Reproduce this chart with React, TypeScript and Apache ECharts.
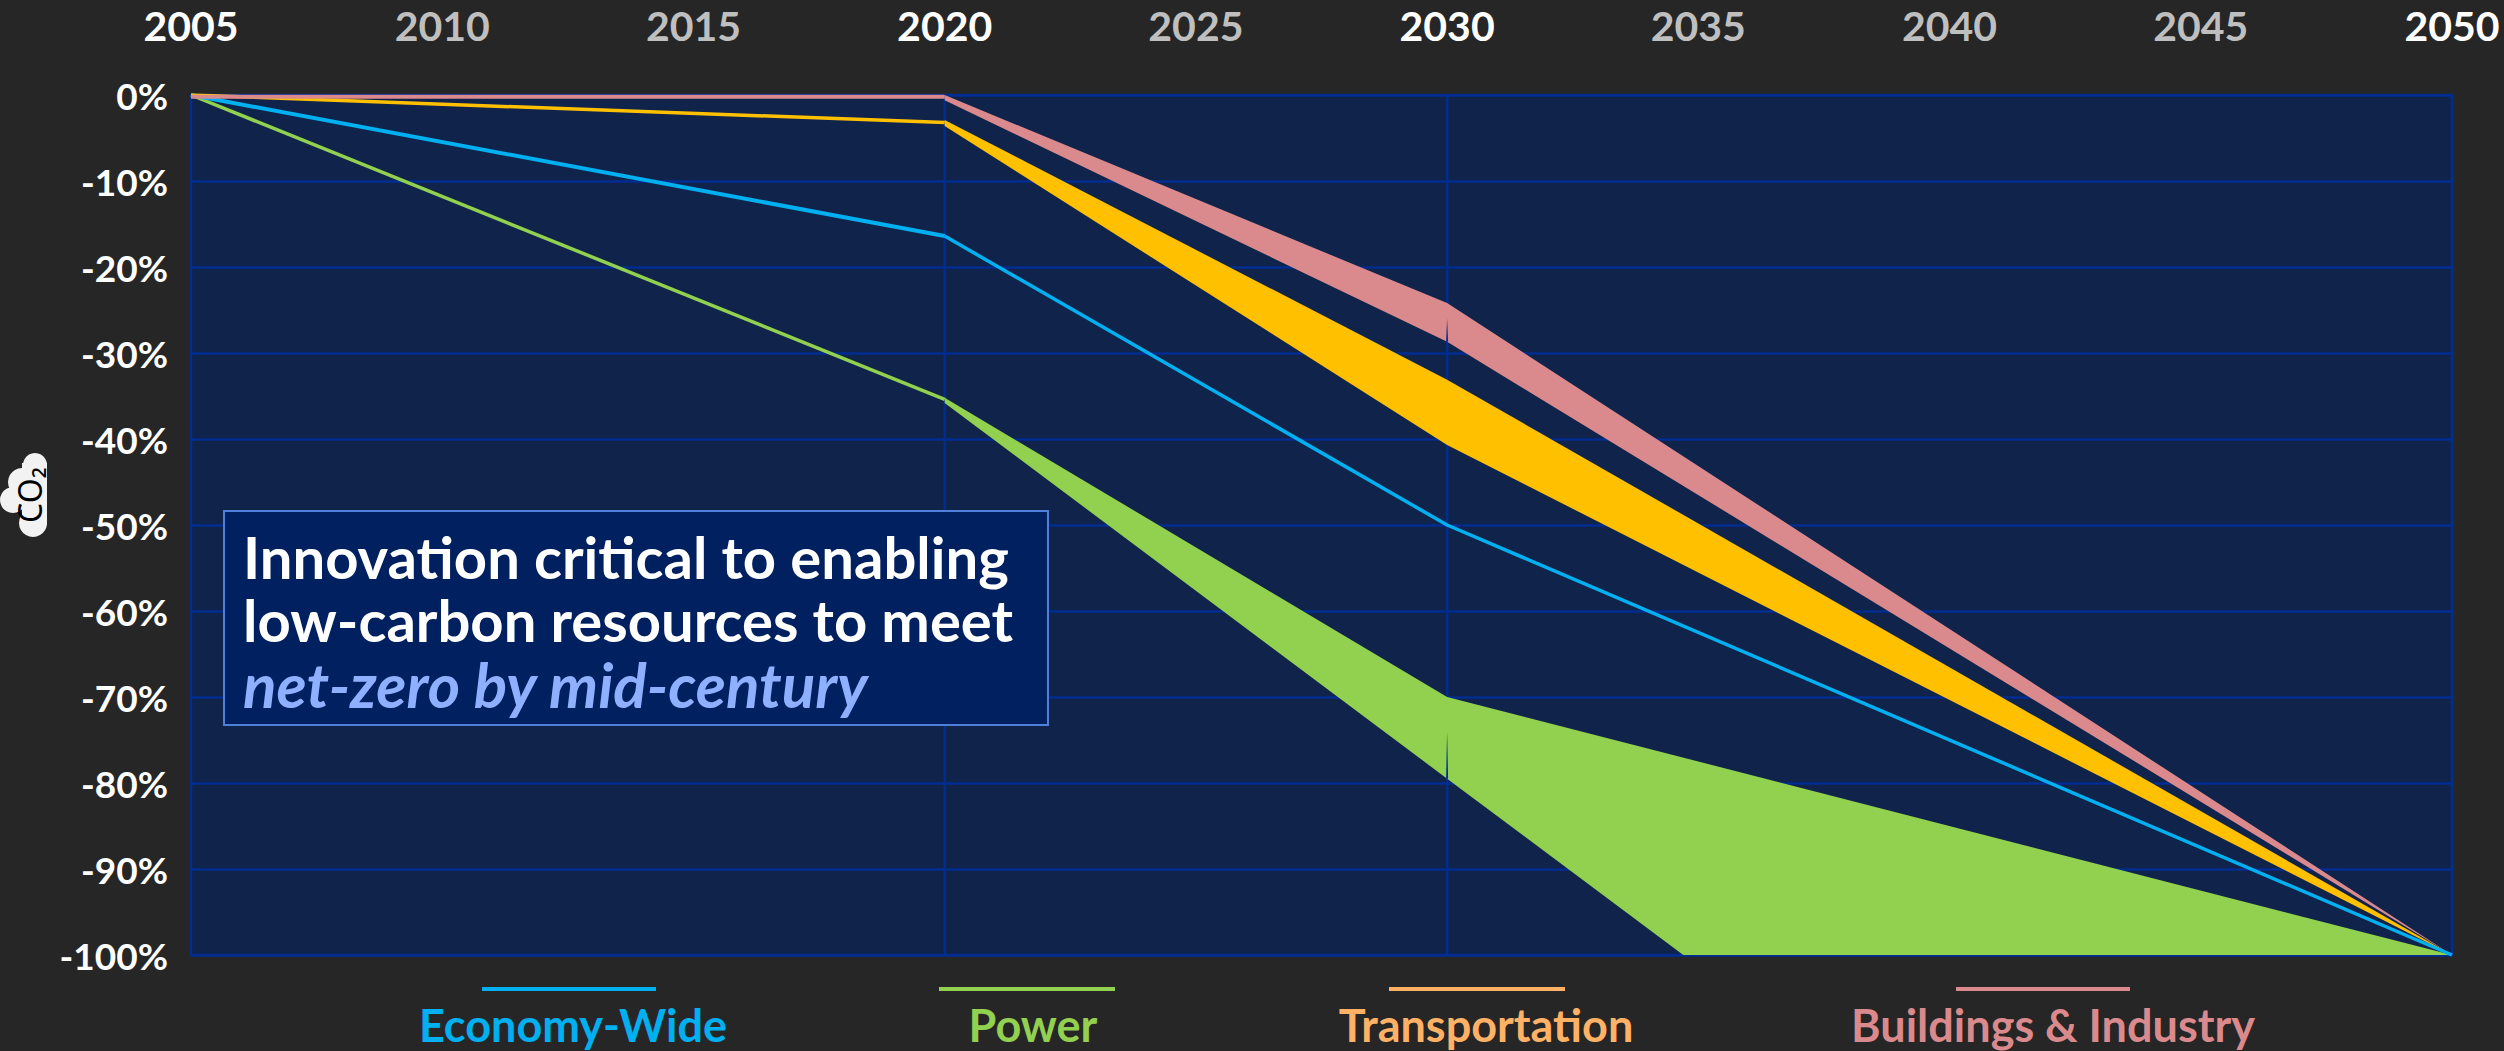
import React, { useEffect, useRef } from "react";
import * as echarts from "echarts";

const tickYears = [2005, 2010, 2015, 2020, 2025, 2030, 2035, 2040, 2045, 2050];
const strongYears = [2005, 2020, 2030, 2050];
const gridYears = [2020, 2030];

const economyHistory = [[2005, 0], [2020, -16.4]];
const economyPath = [[2020, -16.4], [2030, -50], [2050, -100]];
const powerHistory = [[2005, 0], [2020, -35.4]];
const transportHistory = [[2005, 0], [2020, -3.2]];
const buildingsHistory = [[2005, -0.2], [2020, -0.2]];

const powerUpper = [[2020, -35.2], [2030, -70], [2050, -100]];
const powerLower = [[2020, -35.8], [2030, -79.5], [2034.7, -100], [2050, -100]];
const transportUpper = [[2020, -2.9], [2030, -33.1], [2050, -100]];
const transportLower = [[2020, -3.6], [2030, -40.7], [2050, -100]];
const buildingsUpper = [[2020, 0], [2030, -24.2], [2050, -100]];
const buildingsLower = [[2020, -0.6], [2030, -28.7], [2050, -100]];

const seams = [[2030, -26, -28.7], [2030, -74, -79.5]];

const legendNames = ["Economy-Wide", "Power", "Transportation", "Buildings & Industry"];
const legendColors = ["#00B0F0", "#92D050", "#FFB266", "#DA8A8C"];
const calloutLines = ["Innovation critical to enabling", "low-carbon resources to meet", "net-zero by mid-century"];

const FONT = "Lato";
const GRID_COLOR = "#002D90";
const BLUE = "#00B0F0";
const GREEN = "#92D050";
const YELLOW = "#FFC000";
const PINK = "#DA8A8C";

function band(name: string, upper: number[][], lower: number[][], color: string) {
  return {
    name,
    type: "custom",
    z: 3,
    silent: true,
    data: [0],
    renderItem: (_: any, api: any) => ({
      type: "polygon",
      shape: { points: [...upper, ...[...lower].reverse()].map((p) => api.coord(p)) },
      style: { fill: color },
    }),
  };
}

function history(name: string, data: number[][], color: string, width: number, z: number) {
  return {
    name,
    type: "line",
    data,
    z,
    silent: true,
    symbol: "none",
    lineStyle: { color, width, cap: "butt" },
  };
}

export default function App() {
  const ref = useRef<HTMLDivElement>(null);
  useEffect(() => {
    const chart = echarts.init(ref.current!, null, { renderer: "svg" });
    const legendCenters = [573, 1033, 1486, 2053];
    const legendLines = [[482, 656], [939, 1115], [1389, 1565], [1956, 2130]];
    const calloutSizes = [58, 58, 62];
    chart.setOption({
      animation: false,
      backgroundColor: "#262626",
      grid: {
        left: 191,
        right: 52,
        top: 95,
        bottom: 96,
        show: true,
        backgroundColor: "#10234A",
        borderColor: GRID_COLOR,
        borderWidth: 2.5,
      },
      xAxis: {
        type: "value",
        position: "top",
        min: 2005,
        max: 2050,
        interval: 5,
        splitLine: { show: false },
        axisLine: { show: false },
        axisTick: { show: false },
        axisLabel: {
          margin: 49,
          formatter: (v: number) => (strongYears.includes(v) ? `{s|${v}}` : `{m|${v}}`),
          rich: {
            s: { color: "#FFFFFF", fontFamily: FONT, fontWeight: 700, fontSize: 41 },
            m: { color: "#BFBFBF", fontFamily: FONT, fontWeight: 700, fontSize: 41 },
          },
        },
      },
      yAxis: {
        type: "value",
        min: -100,
        max: 0,
        interval: 10,
        axisLine: { show: false },
        axisTick: { show: false },
        splitLine: { lineStyle: { color: GRID_COLOR, width: 2.5 } },
        axisLabel: {
          margin: 23,
          color: "#FFFFFF",
          fontFamily: FONT,
          fontWeight: 700,
          fontSize: 37,
          padding: [4, 0, 0, 0],
          formatter: "{value}%",
        },
      },
      series: [
        {
          name: "Year gridlines",
          type: "custom",
          z: 1,
          silent: true,
          data: gridYears,
          encode: { x: 0 },
          renderItem: (_: any, api: any) => {
            const a = api.coord([api.value(0), 0]);
            const b = api.coord([api.value(0), -100]);
            return {
              type: "line",
              shape: { x1: a[0], y1: a[1], x2: b[0], y2: b[1] },
              style: { stroke: GRID_COLOR, lineWidth: 2.5 },
            };
          },
        },
        band("Power band", powerUpper, powerLower, GREEN),
        band("Transportation band", transportUpper, transportLower, YELLOW),
        band("Buildings band", buildingsUpper, buildingsLower, PINK),
        {
          name: "Seams",
          type: "custom",
          z: 4,
          silent: true,
          data: seams,
          renderItem: (_: any, api: any) => {
            const a = api.coord([api.value(0), api.value(1)]);
            const b = api.coord([api.value(0), api.value(2)]);
            return {
              type: "polygon",
              shape: { points: [a, [b[0] - 1, b[1]], [b[0] + 1, b[1]]] },
              style: { fill: GRID_COLOR },
            };
          },
        },
        history("Power", powerHistory, GREEN, 3.5, 5),
        history("Economy-Wide", economyHistory, BLUE, 4, 5),
        history("Economy-Wide path", economyPath, BLUE, 3.5, 5),
        history("Transportation", transportHistory, YELLOW, 3.5, 6),
        history("Buildings & Industry", buildingsHistory, PINK, 4, 7),
      ],
      graphic: [
        ...legendNames.flatMap((name, i) => [
          {
            type: "line",
            shape: { x1: legendLines[i][0], y1: 989, x2: legendLines[i][1], y2: 989 },
            style: { stroke: legendColors[i], lineWidth: 4 },
          },
          {
            type: "text",
            x: legendCenters[i],
            y: 1025,
            style: {
              text: name,
              fill: legendColors[i],
              font: `700 45px ${FONT}`,
              align: "center",
              verticalAlign: "middle",
            },
          },
        ]),
        {
          type: "rect",
          shape: { x: 224, y: 511, width: 824, height: 214 },
          style: { fill: "#002060", stroke: "#4F7FD8", lineWidth: 2 },
          z: 20,
        },
        ...calloutLines.map((line, i) => ({
          type: "text",
          x: 243,
          y: [556, 619, 684][i],
          z: 21,
          style: {
            text: line,
            fill: i === 2 ? "#8FB0FF" : "#FFFFFF",
            font: `${i === 2 ? "italic " : ""}700 ${calloutSizes[i]}px ${FONT}`,
            align: "left",
            verticalAlign: "middle",
          },
        })),
        ...[[35, 465, 12], [22, 482, 14], [13, 500, 13], [33, 523, 14]].map(([cx, cy, r]) => ({
          type: "circle",
          shape: { cx, cy, r },
          style: { fill: "#F2F2F2" },
        })),
        {
          type: "rect",
          shape: { x: 22, y: 463, width: 25, height: 62, r: 0 },
          style: { fill: "#F2F2F2" },
        },
        {
          type: "text",
          x: 29,
          y: 495,
          rotation: Math.PI / 2,
          style: {
            text: "CO₂",
            fill: "#000000",
            font: `400 32px "Noto Sans"`,
            align: "center",
            verticalAlign: "middle",
          },
        },
      ],
    });
    return () => chart.dispose();
  }, []);
  return <div ref={ref} style={{ position: "absolute", left: 0, top: 0, width: 2504, height: 1051 }} />;
}
